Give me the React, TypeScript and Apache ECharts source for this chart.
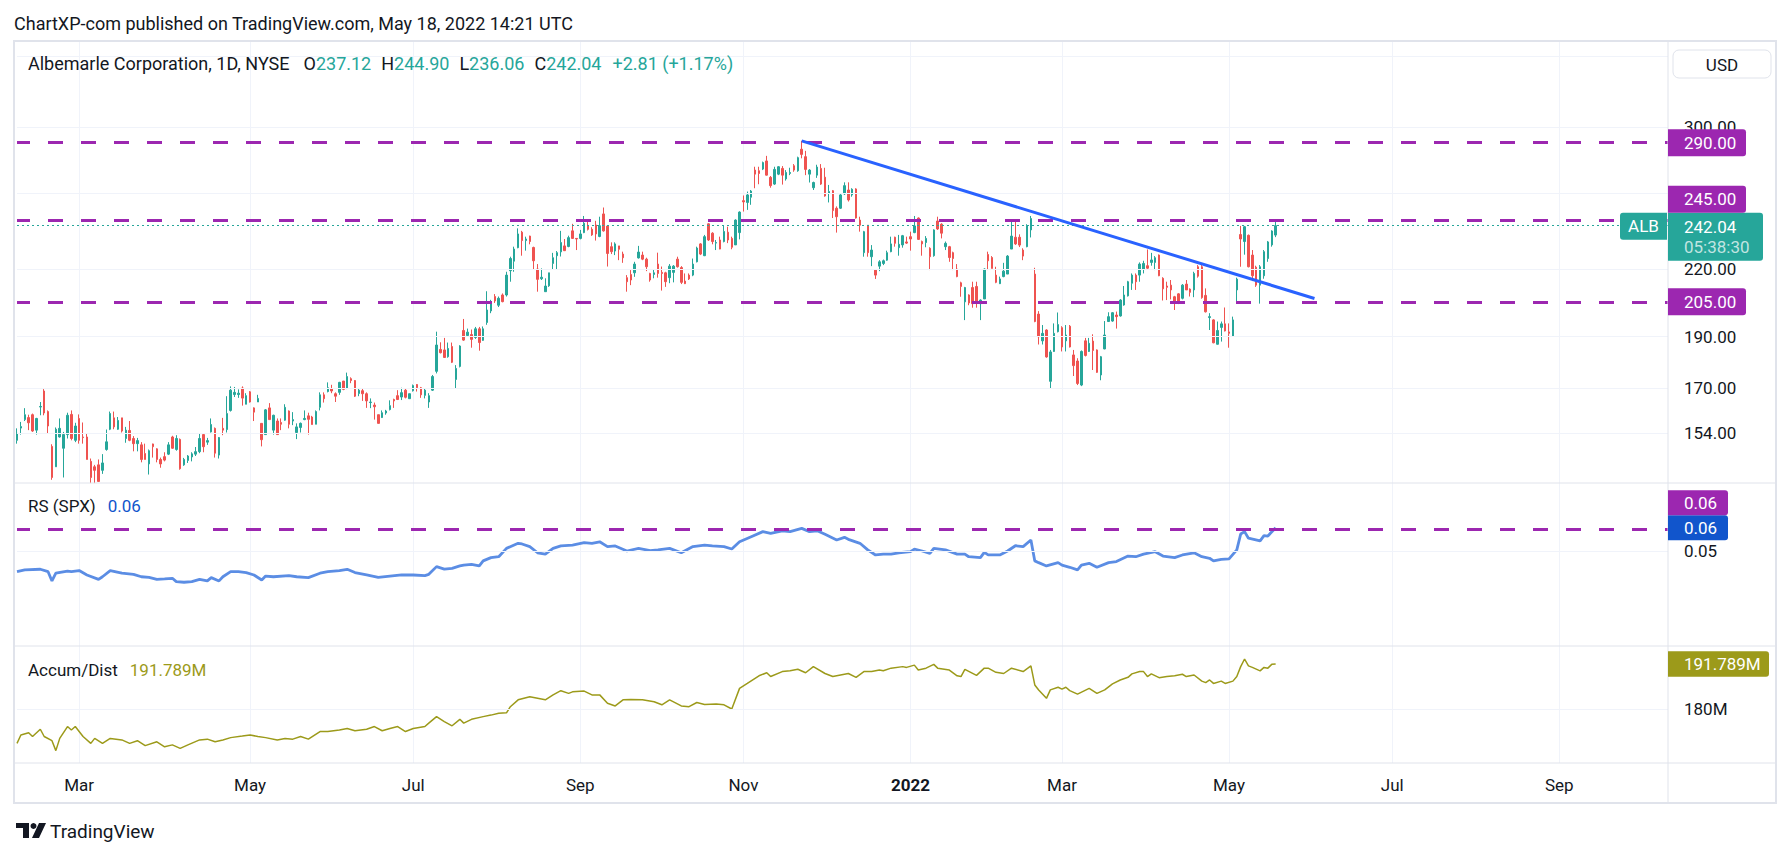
import React, { useEffect, useRef } from "react";
import * as echarts from "echarts";

// ---------------- data ----------------
const TITLE = "ChartXP-com published on TradingView.com, May 18, 2022 14:21 UTC";
const SYMBOL = "Albemarle Corporation, 1D, NYSE";
const TICKER = "ALB";
const COUNTDOWN = "05:38:30";
const CURRENCY = "USD";
const FIRST_DAY = "2021-02-04";
const TOTAL_SLOTS = 426; // trading-day slots on the time axis (data + future space)
const HOLIDAYS = [
  "2021-02-15", "2021-04-02", "2021-05-31", "2021-07-05", "2021-09-06", "2021-11-25",
  "2021-12-24", "2022-01-17", "2022-02-21", "2022-04-15", "2022-05-30", "2022-06-20",
  "2022-07-04", "2022-09-05", "2022-11-24",
];
const MONTHS = ["Jan", "Feb", "Mar", "Apr", "May", "Jun", "Jul", "Aug", "Sep", "Oct", "Nov", "Dec"];

// daily candles: [open, high, low, close]
const candles: number[][] = [
  [151.6, 155.6, 150.5, 153.9], [155.7, 157.8, 153.5, 156.2], [158.6, 162.6, 158.1, 160.3], [159.3, 160.3, 155.0, 157.5], [160.3, 160.7, 154.4, 154.7],
  [155.0, 159.2, 153.5, 159.0], [163.0, 164.8, 160.1, 163.2], [168.8, 169.5, 160.1, 160.9], [161.4, 161.8, 153.9, 156.4], [149.6, 150.3, 139.1, 139.8],
  [143.1, 155.9, 143.1, 155.3], [152.7, 159.0, 152.5, 155.6], [149.0, 154.4, 139.8, 153.5], [153.5, 161.0, 152.2, 160.1], [160.4, 161.8, 151.6, 152.2],
  [151.6, 157.5, 151.0, 156.4], [159.0, 160.4, 150.5, 151.6], [152.7, 157.6, 150.5, 152.5], [152.7, 153.9, 145.4, 145.4], [144.8, 145.7, 138.1, 139.8],
  [143.1, 143.7, 138.1, 142.0], [143.7, 145.4, 138.6, 138.6], [142.0, 147.1, 140.9, 144.3], [148.6, 155.2, 148.2, 151.1], [155.3, 161.4, 155.0, 160.7],
  [159.2, 161.4, 155.3, 156.1], [155.3, 159.5, 155.1, 158.3], [159.2, 159.2, 154.2, 154.7], [152.2, 156.1, 150.8, 155.0], [154.9, 158.1, 151.3, 151.6],
  [152.2, 153.0, 148.0, 150.5], [150.5, 152.4, 148.0, 151.5], [150.1, 151.0, 144.5, 145.4], [147.3, 150.5, 145.4, 145.4], [144.0, 148.6, 140.7, 148.2],
  [150.4, 150.5, 146.0, 149.5], [148.8, 149.0, 144.5, 145.4], [145.4, 146.0, 142.8, 144.0], [146.3, 147.7, 144.8, 145.2], [147.1, 151.0, 146.8, 150.1],
  [152.7, 153.1, 148.8, 149.0], [148.6, 153.3, 148.2, 152.2], [151.9, 152.2, 142.2, 142.5], [143.7, 145.9, 143.4, 145.4], [145.1, 146.8, 144.3, 146.5],
  [146.2, 147.7, 144.8, 147.2], [147.1, 149.4, 146.5, 147.9], [147.9, 153.9, 147.4, 152.2], [153.5, 153.9, 147.7, 149.5], [151.0, 152.4, 150.1, 151.5],
  [154.4, 159.0, 154.2, 156.9], [155.6, 155.9, 146.0, 147.4], [146.8, 152.7, 145.7, 152.5], [155.6, 159.2, 153.3, 155.0], [155.2, 166.9, 154.2, 160.7],
  [161.8, 170.5, 161.4, 169.1], [167.5, 170.3, 166.6, 168.3], [167.5, 169.4, 166.3, 168.0], [169.9, 170.5, 163.5, 166.2], [164.0, 168.0, 164.0, 167.1],
  [168.5, 168.8, 164.6, 164.8], [162.7, 162.9, 158.1, 161.2], [164.8, 167.4, 164.8, 166.1], [157.3, 157.3, 149.6, 151.8], [153.5, 162.3, 153.5, 162.0],
  [162.7, 164.4, 158.6, 158.6], [155.0, 160.3, 153.5, 160.1], [158.1, 159.0, 153.5, 153.5], [157.6, 159.0, 155.0, 157.0], [158.4, 164.0, 158.2, 162.9],
  [161.6, 161.8, 155.6, 157.0], [158.1, 161.2, 156.7, 158.6], [154.2, 157.3, 152.0, 156.1], [155.9, 157.6, 154.2, 157.3], [158.6, 161.8, 158.4, 159.0],
  [159.9, 161.0, 153.5, 158.7], [159.5, 159.9, 156.9, 156.9], [157.0, 161.8, 157.0, 161.4], [162.9, 168.3, 161.8, 167.4], [167.4, 168.3, 164.6, 166.0],
  [168.6, 172.0, 168.3, 170.0], [169.7, 171.1, 168.0, 168.8], [167.8, 168.3, 164.8, 166.9], [168.3, 172.2, 167.4, 172.0], [172.5, 172.5, 169.1, 169.4],
  [169.7, 175.7, 169.5, 174.2], [173.4, 173.9, 171.7, 172.7], [172.7, 172.9, 166.6, 166.9], [167.9, 169.7, 166.9, 169.1], [168.9, 169.6, 165.2, 167.8],
  [167.8, 168.3, 162.7, 165.2], [164.6, 166.1, 162.6, 164.8], [163.7, 164.6, 158.6, 163.1], [160.3, 160.3, 157.3, 157.3], [159.3, 161.8, 159.2, 161.0],
  [160.9, 162.0, 160.3, 161.6], [162.1, 165.4, 161.8, 163.5], [165.7, 166.0, 162.7, 165.2], [167.1, 169.1, 165.5, 165.7], [166.6, 170.0, 165.5, 168.2],
  [169.1, 169.6, 166.1, 166.5], [166.0, 167.8, 166.0, 167.8], [168.9, 171.2, 168.6, 170.8], [171.2, 171.4, 168.6, 170.0], [170.0, 170.3, 166.3, 167.4],
  [167.2, 169.7, 166.1, 169.1], [164.8, 168.0, 162.7, 167.1], [169.1, 174.8, 168.8, 174.2], [176.2, 192.1, 175.4, 186.6], [184.8, 187.7, 183.2, 183.5],
  [184.6, 189.5, 181.5, 181.6], [181.9, 187.6, 181.5, 185.2], [186.0, 187.6, 179.4, 179.7], [173.1, 178.6, 169.8, 177.3], [178.1, 186.5, 177.7, 186.2],
  [192.6, 197.5, 188.3, 188.6], [190.5, 193.4, 190.1, 191.9], [190.9, 193.0, 185.5, 188.9], [189.7, 194.1, 189.1, 193.3], [193.3, 194.1, 184.3, 187.6],
  [188.5, 194.3, 188.3, 193.3], [196.0, 209.8, 195.0, 201.4], [201.0, 205.9, 200.0, 204.8], [207.4, 208.5, 204.5, 205.4], [203.5, 207.4, 202.7, 206.6],
  [208.1, 208.8, 204.8, 205.1], [208.1, 218.9, 207.4, 217.3], [219.4, 226.2, 214.2, 225.3], [224.0, 231.2, 218.9, 230.0], [230.7, 240.6, 230.4, 237.7],
  [238.6, 239.3, 226.7, 234.3], [234.3, 236.3, 229.2, 235.1], [236.6, 236.8, 232.4, 233.8], [230.8, 231.2, 220.2, 224.2], [220.2, 222.6, 209.6, 215.3],
  [215.6, 220.5, 215.0, 216.3], [209.6, 215.8, 209.6, 212.2], [212.3, 218.4, 211.8, 218.4], [222.9, 228.1, 220.0, 225.7], [226.7, 229.0, 219.8, 228.2],
  [228.6, 239.3, 226.3, 233.3], [231.6, 235.1, 229.0, 229.2], [231.3, 236.8, 230.9, 235.8], [239.3, 243.0, 235.1, 235.4], [235.4, 235.4, 229.5, 235.1],
  [235.4, 239.8, 234.9, 237.7], [238.4, 247.2, 238.1, 243.3], [242.2, 244.1, 239.5, 240.1], [240.1, 241.2, 236.7, 237.2], [242.4, 244.6, 234.3, 237.7],
  [236.4, 246.8, 236.0, 242.0], [248.3, 251.8, 238.9, 239.3], [241.8, 242.4, 221.4, 227.8], [231.2, 233.4, 227.5, 228.7], [229.0, 233.4, 227.0, 232.6],
  [231.6, 231.6, 224.5, 229.9], [227.5, 228.7, 223.2, 225.7], [216.1, 217.3, 209.6, 214.2], [217.6, 219.7, 212.6, 215.0], [218.4, 223.7, 216.5, 222.6],
  [225.6, 231.6, 225.3, 228.5], [227.0, 228.7, 224.5, 225.0], [225.0, 225.7, 219.2, 221.3], [218.1, 218.4, 214.2, 215.0], [217.6, 220.0, 215.8, 218.4],
  [222.6, 228.2, 216.1, 218.1], [218.6, 221.4, 210.1, 218.1], [218.4, 218.9, 211.8, 214.2], [216.1, 222.6, 213.5, 221.6], [218.6, 222.1, 213.9, 221.6],
  [225.0, 226.2, 220.9, 221.3], [220.9, 221.6, 213.1, 213.9], [214.5, 218.1, 213.1, 213.3], [217.3, 218.1, 215.0, 215.5], [217.3, 225.3, 216.8, 222.6],
  [223.7, 231.2, 223.4, 230.5], [232.6, 233.0, 227.0, 227.5], [226.7, 237.2, 226.5, 236.3], [243.0, 243.3, 234.1, 234.6], [238.1, 238.6, 232.4, 233.8],
  [233.0, 234.6, 229.5, 233.3], [234.6, 236.3, 229.9, 230.0], [233.8, 241.9, 233.4, 239.0], [238.6, 241.5, 233.0, 234.6], [235.4, 236.3, 229.9, 230.9],
  [232.1, 245.4, 232.1, 245.0], [238.4, 249.7, 234.9, 249.3], [255.6, 258.5, 249.6, 254.9], [254.6, 260.7, 250.5, 258.8], [257.5, 261.6, 253.3, 261.0],
  [273.2, 275.2, 262.6, 270.8], [272.8, 275.2, 264.9, 271.2], [273.8, 278.3, 273.2, 277.7], [278.7, 281.8, 270.0, 270.2], [268.9, 269.7, 262.9, 264.1],
  [265.0, 275.2, 264.5, 273.6], [270.8, 275.6, 270.2, 275.2], [274.2, 275.6, 264.7, 270.2], [268.0, 273.2, 267.0, 271.8], [271.2, 274.6, 270.2, 271.8],
  [275.8, 276.8, 272.2, 273.2], [272.8, 281.3, 272.2, 280.7], [285.9, 291.2, 280.3, 282.7], [281.3, 284.9, 270.2, 273.6], [270.8, 273.8, 265.9, 273.2],
  [262.9, 266.4, 261.6, 265.9], [270.2, 276.4, 268.6, 275.0], [274.2, 276.8, 264.5, 265.0], [269.0, 274.6, 257.8, 258.2], [259.9, 264.5, 254.6, 260.7],
  [261.2, 261.6, 246.1, 250.1], [251.4, 252.4, 238.4, 246.8], [251.4, 259.4, 251.0, 258.8], [259.4, 266.0, 258.8, 264.1], [261.6, 266.0, 255.1, 256.0],
  [258.8, 262.6, 257.8, 262.0], [262.2, 262.6, 245.8, 246.1], [245.0, 246.8, 238.9, 242.3], [228.2, 239.3, 226.2, 238.9], [242.3, 242.3, 226.2, 228.2],
  [226.2, 232.0, 221.6, 229.5], [219.7, 220.0, 215.5, 217.3], [221.6, 224.5, 219.2, 223.7], [222.9, 224.8, 222.1, 224.2], [224.5, 229.2, 224.2, 228.2],
  [228.7, 236.3, 228.4, 232.6], [236.0, 236.3, 231.2, 232.9], [230.7, 237.2, 226.7, 232.4], [232.1, 237.2, 230.7, 236.8], [233.6, 236.3, 232.6, 233.0],
  [236.3, 238.9, 229.2, 235.1], [238.4, 247.2, 238.1, 241.9], [246.1, 246.4, 234.6, 234.9], [233.8, 234.3, 226.7, 232.6], [233.3, 236.6, 230.9, 235.4],
  [230.4, 230.9, 219.7, 226.2], [226.7, 240.1, 226.2, 239.8], [244.5, 246.8, 239.8, 240.3], [242.8, 243.3, 235.4, 238.1], [231.2, 233.8, 229.5, 232.9],
  [231.2, 231.6, 223.7, 225.8], [228.2, 228.7, 219.7, 225.3], [220.2, 222.6, 216.3, 216.6], [213.7, 214.2, 207.3, 212.0], [205.0, 211.8, 197.0, 211.5],
  [208.1, 208.4, 203.5, 204.5], [211.5, 214.2, 202.4, 204.2], [212.0, 214.2, 202.4, 204.5], [204.2, 206.1, 197.0, 205.8], [206.3, 220.5, 206.3, 220.2],
  [227.3, 228.7, 219.7, 224.2], [225.8, 226.5, 220.5, 220.5], [217.3, 221.3, 213.5, 213.9], [213.3, 216.6, 213.1, 215.5], [216.6, 223.2, 216.3, 219.2],
  [217.8, 227.0, 217.8, 226.5], [230.0, 244.5, 230.0, 236.6], [236.0, 245.0, 232.1, 232.6], [236.0, 237.5, 231.0, 232.0], [229.5, 230.4, 224.5, 226.5],
  [231.2, 242.8, 230.9, 242.0], [239.8, 247.2, 235.9, 245.8], [217.8, 220.8, 196.1, 196.4], [199.6, 200.9, 186.8, 190.0], [188.3, 194.9, 186.8, 191.4],
  [192.8, 193.1, 181.5, 181.8], [172.4, 184.6, 169.6, 183.8], [184.0, 195.6, 183.8, 191.4], [192.1, 200.3, 191.8, 195.1], [193.8, 194.4, 184.0, 185.8],
  [188.3, 194.9, 184.0, 190.7], [194.4, 194.9, 185.6, 185.8], [182.6, 184.6, 174.4, 178.4], [180.2, 181.3, 171.0, 171.6], [171.0, 184.4, 170.6, 184.0],
  [188.3, 189.5, 182.0, 182.4], [184.0, 189.5, 183.8, 187.3], [188.2, 191.0, 176.7, 184.4], [184.6, 184.8, 175.6, 175.8], [174.8, 182.2, 172.8, 181.9],
  [185.0, 196.6, 184.9, 190.7], [196.4, 200.4, 196.2, 198.5], [196.6, 200.5, 196.3, 200.2], [199.2, 200.7, 193.4, 198.5], [198.8, 206.2, 198.5, 205.8],
  [203.6, 212.2, 203.3, 208.1], [207.7, 214.6, 207.4, 214.2], [213.5, 218.1, 210.4, 217.3], [217.3, 218.1, 210.4, 214.2], [217.3, 223.4, 214.2, 222.6],
  [220.0, 224.2, 218.1, 222.9], [221.8, 229.8, 220.2, 220.6], [223.4, 228.1, 221.8, 224.6], [223.4, 226.5, 219.7, 225.7], [227.0, 227.3, 216.8, 217.0],
  [215.8, 216.3, 205.6, 210.9], [212.2, 214.2, 205.8, 211.6], [212.6, 215.0, 206.1, 210.4], [207.3, 207.7, 201.4, 205.1], [208.6, 208.9, 204.0, 204.3],
  [206.6, 213.1, 206.1, 212.6], [213.1, 215.0, 210.4, 210.4], [210.8, 211.1, 207.4, 209.3], [210.4, 218.9, 207.1, 218.1], [221.3, 222.1, 216.1, 216.8],
  [221.3, 222.1, 206.4, 206.9], [207.9, 211.1, 200.3, 200.6], [198.1, 200.0, 192.8, 198.5], [197.1, 197.4, 187.3, 187.5], [186.9, 196.4, 186.8, 192.6],
  [193.9, 196.4, 188.0, 195.4], [195.4, 202.5, 192.2, 192.4], [192.0, 195.6, 185.5, 191.4], [190.3, 198.5, 190.3, 197.1], [210.4, 216.1, 205.0, 215.4],
  [237.4, 241.9, 221.3, 235.1], [233.8, 241.9, 227.2, 241.5], [237.0, 237.4, 221.0, 221.3], [227.0, 229.5, 214.5, 217.0], [221.1, 221.8, 211.8, 212.6],
  [212.6, 222.1, 204.2, 221.3], [217.0, 229.5, 215.6, 228.7], [225.3, 234.1, 223.7, 233.6], [232.1, 239.6, 231.2, 239.23], [237.12, 244.9, 236.06, 242.04],
];

// horizontal levels drawn on the price pane
const priceLevels = [290, 245, 205];
const priceGrid = [154, 170, 190, 220, 260, 300, 350];
const priceLabels = [154, 170, 190, 220, 300];
// trend line: [bar index, price]
const trendStart = [202, 291.2];
const trendEnd = [334, 206.5];

// RS (SPX) indicator: bar index + value
const rsIdx = [0, 2, 6, 8, 9, 10, 13, 14, 16, 18, 21, 22, 24, 27, 30, 32, 34, 36, 38, 40, 41, 43, 45, 47, 49, 50, 52, 53, 55, 57,
  59, 61, 63, 64, 66, 70, 72, 75, 78, 80, 83, 85, 87, 90, 93, 96, 99, 102, 105, 106, 108, 110, 112, 114, 115, 117, 119, 120, 122, 124,
  126, 129, 130, 132, 134, 136, 138, 140, 143, 146, 148, 150, 152, 154, 157, 160, 163, 165, 168, 171, 174, 177, 179, 182, 184, 186, 189, 192, 194, 197,
  199, 202, 204, 206, 208, 211, 213, 214, 217, 219, 221, 223, 225, 227, 230, 231, 233, 235, 236, 239, 242, 244, 245, 248, 249, 250, 253, 255, 257, 259,
  261, 262, 263, 265, 268, 269, 271, 273, 274, 276, 278, 281, 283, 286, 288, 290, 293, 295, 298, 300, 303, 305, 307, 308, 310, 312, 314, 315, 316, 317,
  320, 321, 322, 324];
const rsVal = [0.0406, 0.0414, 0.0417, 0.0406, 0.0364, 0.0399, 0.0409, 0.0406, 0.0411, 0.0391, 0.0371, 0.0383, 0.0411, 0.0399, 0.0394, 0.0383, 0.038, 0.0371, 0.0373, 0.0376,
  0.0361, 0.0358, 0.0361, 0.0371, 0.0364, 0.0379, 0.0364, 0.0383, 0.0406, 0.0406, 0.0402, 0.0391, 0.0368, 0.0386, 0.0383, 0.0388, 0.0383, 0.0379, 0.0399, 0.0406,
  0.0411, 0.0417, 0.0402, 0.0391, 0.038, 0.0386, 0.0391, 0.0391, 0.0388, 0.0394, 0.0429, 0.0418, 0.0421, 0.0432, 0.0436, 0.0439, 0.0432, 0.0455, 0.047, 0.0474,
  0.0512, 0.0535, 0.0532, 0.052, 0.0492, 0.0486, 0.0512, 0.0523, 0.0527, 0.0538, 0.0535, 0.0542, 0.052, 0.0523, 0.05, 0.0512, 0.0502, 0.0505, 0.0512, 0.0492,
  0.052, 0.0527, 0.0523, 0.052, 0.0509, 0.0542, 0.0565, 0.0588, 0.058, 0.0592, 0.0588, 0.0603, 0.0588, 0.0592, 0.0576, 0.055, 0.0562, 0.0553, 0.0535, 0.0505,
  0.0482, 0.0486, 0.0486, 0.0492, 0.0497, 0.0508, 0.05, 0.0489, 0.0512, 0.0505, 0.0486, 0.0486, 0.0474, 0.047, 0.0494, 0.0482, 0.0482, 0.05, 0.0524, 0.052,
  0.055, 0.0455, 0.0447, 0.0432, 0.0447, 0.0436, 0.0426, 0.0414, 0.0436, 0.0444, 0.0426, 0.0447, 0.0452, 0.0477, 0.0474, 0.0486, 0.0497, 0.0477, 0.047, 0.0482,
  0.0492, 0.0474, 0.0467, 0.0455, 0.0462, 0.0464, 0.0505, 0.0577, 0.0588, 0.0558, 0.0546, 0.057, 0.0568, 0.0606];
const rsLevel = 0.0603;
const rsTicks = [0.05];

// Accumulation / Distribution (millions): bar index + value
const adIdx = [0, 1, 3, 4, 6, 7, 9, 10, 11, 13, 14, 15, 17, 19, 20, 22, 24, 27, 29, 31, 33, 36, 38, 40, 42, 44, 47, 49, 51, 53,
  55, 58, 60, 62, 64, 67, 69, 71, 73, 75, 78, 80, 83, 85, 87, 90, 92, 94, 96, 98, 100, 102, 105, 106, 108, 110, 112, 114, 115, 117,
  120, 122, 124, 126, 127, 129, 132, 134, 136, 138, 140, 142, 143, 146, 148, 150, 152, 154, 156, 158, 161, 164, 166, 168, 171, 173, 175, 177, 180, 182,
  184, 186, 188, 191, 193, 194, 197, 199, 201, 203, 205, 208, 210, 212, 214, 216, 218, 220, 222, 223, 225, 228, 229, 231, 232, 234, 236, 237, 240, 242,
  243, 244, 247, 249, 250, 252, 254, 256, 259, 261, 262, 263, 265, 266, 268, 269, 270, 271, 273, 276, 278, 280, 282, 284, 286, 287, 289, 290, 291, 292,
  294, 296, 298, 300, 301, 303, 305, 306, 307, 308, 310, 311, 313, 314, 315, 316, 317, 318, 320, 321, 322, 323, 324];
const adVal = [171.0, 173.2, 173.8, 172.8, 174.7, 172.8, 171.7, 169.1, 172.3, 175.4, 174.5, 175.4, 172.8, 171.0, 172.3, 171.0, 172.3, 171.9, 171.0, 171.7,
  170.4, 171.4, 170.1, 170.6, 169.7, 170.6, 171.9, 172.1, 171.4, 171.9, 172.5, 172.9, 173.2, 172.8, 172.5, 171.9, 172.3, 172.1, 172.8, 172.1,
  174.1, 174.1, 174.5, 174.9, 174.3, 174.7, 175.4, 174.3, 174.9, 175.4, 174.1, 174.9, 175.4, 176.3, 178.0, 176.7, 175.6, 177.3, 176.3, 177.3,
  178.0, 178.4, 178.9, 179.0, 180.6, 182.4, 183.2, 182.8, 182.4, 183.7, 184.8, 184.1, 184.5, 184.7, 183.7, 183.7, 181.5, 180.8, 182.4, 182.5,
  182.4, 181.9, 181.1, 182.4, 180.8, 180.6, 181.7, 181.2, 181.3, 181.1, 180.0, 185.4, 186.7, 188.7, 189.5, 188.5, 189.8, 190.0, 190.4, 189.5,
  191.1, 189.3, 188.5, 188.9, 189.3, 188.3, 189.8, 189.8, 190.2, 190.0, 190.7, 191.1, 190.9, 191.5, 190.2, 190.7, 191.7, 190.7, 190.2, 188.7,
  188.5, 190.4, 188.8, 190.7, 190.7, 189.6, 189.3, 190.7, 189.8, 191.3, 186.3, 185.0, 182.8, 185.0, 185.7, 185.2, 185.7, 184.8, 183.9, 185.4,
  184.1, 185.0, 186.6, 187.6, 188.3, 189.2, 189.8, 189.8, 188.5, 189.2, 188.2, 188.5, 188.7, 189.1, 188.5, 188.9, 187.3, 186.9, 187.6, 186.7,
  187.3, 186.7, 187.3, 188.5, 191.1, 193.1, 191.3, 190.9, 190.0, 190.9, 190.7, 191.7, 191.789];
const adTicks = [180];

// ---------------- style / layout ----------------
const FONT = "Roboto, 'Noto Sans', sans-serif";
const TEXT = "#131722";
const GRID_C = "#f0f3fa";
const BORDER = "#e0e3eb";
const UP = "#26a69a";
const DOWN = "#ef5350";
const PURPLE = "#9c27b0";
const TREND = "#2962ff";
const RS_C = "#5b8de4";
const RS_LABEL = "#1155cc";
const AD_C = "#9c9a1a";

const W = 1791;
const H = 857;
const FRAME_L = 14;
const FRAME_R = 1776;
const PLOT_L = 17;
const AXIS_X = 1668;
const TOP = 41;
const P1 = 483;
const P2 = 646;
const P3 = 763;
const BOTTOM = 803;
const PRICE_MIN = 138.13;
const PRICE_MAX = 361.97;
const RS_MIN = 0.006818;
const RS_MAX = 0.080909;
const AD_MIN = 165.853;
const AD_MAX = 196.505;

function tradingDays(start: string, n: number, holidays: string[]) {
  const out: string[] = [];
  const d = new Date(start + "T00:00:00Z");
  while (out.length < n) {
    const dow = d.getUTCDay();
    const s = d.toISOString().slice(0, 10);
    if (dow !== 0 && dow !== 6 && !holidays.includes(s)) out.push(s);
    d.setUTCDate(d.getUTCDate() + 1);
  }
  return out;
}

const dates = tradingDays(FIRST_DAY, TOTAL_SLOTS, HOLIDAYS);
const monthOf = (s: string) => Number(s.slice(5, 7)) - 1;
const isTick = dates.map((s, i) => i > 0 && monthOf(s) !== monthOf(dates[i - 1]) && monthOf(s) % 2 === 0);

function xAxis(gridIndex: number, showLabels: boolean) {
  return {
    type: "category",
    gridIndex,
    data: dates,
    boundaryGap: false,
    axisLine: { show: false },
    axisTick: { show: false },
    axisLabel: showLabels
      ? {
          interval: (i: number) => isTick[i],
          margin: 13,
          fontFamily: FONT,
          fontSize: 17,
          color: TEXT,
          formatter: (v: string) => (monthOf(v) === 0 ? `{y|${v.slice(0, 4)}}` : MONTHS[monthOf(v)]),
          rich: { y: { fontFamily: FONT, fontSize: 17, fontWeight: "bold", color: TEXT } },
        }
      : { show: false },
    splitLine: { show: true, interval: (i: number) => isTick[i], lineStyle: { color: GRID_C, width: 1 } },
  };
}

function yLabel(values: number[], fmt: (v: number) => string) {
  return { customValues: values, formatter: fmt, margin: 16, fontFamily: FONT, fontSize: 17, color: TEXT };
}

function gridSeries(xi: number, values: number[]) {
  return {
    type: "line",
    xAxisIndex: xi,
    yAxisIndex: xi,
    data: [],
    silent: true,
    z: 1,
    markLine: {
      silent: true,
      symbol: ["none", "none"],
      label: { show: false },
      emphasis: { disabled: true },
      lineStyle: { color: GRID_C, width: 1, type: "solid" },
      data: values.map((v) => ({ yAxis: v })),
    },
  };
}

const dashed = { color: PURPLE, width: 3, type: [15, 18] as any, dashOffset: 2 };

function buildOption() {
  const last = candles[candles.length - 1];
  return {
    animation: false,
    backgroundColor: "#ffffff",
    grid: [
      { left: PLOT_L, right: W - AXIS_X, top: TOP, height: P1 - TOP },
      { left: PLOT_L, right: W - AXIS_X, top: P1, height: P2 - P1 },
      { left: PLOT_L, right: W - AXIS_X, top: P2, height: P3 - P2 },
    ],
    xAxis: [xAxis(0, false), xAxis(1, false), xAxis(2, true)],
    yAxis: [
      {
        type: "log", gridIndex: 0, position: "right", min: PRICE_MIN, max: PRICE_MAX, logBase: 10,
        axisLine: { show: false }, axisTick: { show: false }, splitLine: { show: false },
        axisLabel: yLabel(priceLabels, (v) => Number(v).toFixed(2)),
      },
      {
        type: "value", gridIndex: 1, position: "right", min: RS_MIN, max: RS_MAX,
        axisLine: { show: false }, axisTick: { show: false }, splitLine: { show: false },
        axisLabel: yLabel(rsTicks, (v) => Number(v).toFixed(2)),
      },
      {
        type: "value", gridIndex: 2, position: "right", min: AD_MIN, max: AD_MAX,
        axisLine: { show: false }, axisTick: { show: false }, splitLine: { show: false },
        axisLabel: yLabel(adTicks, (v) => `${Math.round(Number(v))}M`),
      },
    ],
    series: [
      gridSeries(0, priceGrid),
      {
        type: "candlestick",
        xAxisIndex: 0,
        yAxisIndex: 0,
        barWidth: 2,
        clip: false,
        z: 2,
        data: candles.map(([o, h, l, c]) => [o, c, l, h]),
        itemStyle: { color: UP, color0: DOWN, borderColor: UP, borderColor0: DOWN, borderWidth: 1 },
      },
      {
        type: "line",
        xAxisIndex: 0,
        yAxisIndex: 0,
        data: [],
        silent: true,
        z: 3,
        markLine: {
          silent: true,
          symbol: ["none", "none"],
          label: { show: false },
          emphasis: { disabled: true },
          data: [
            { yAxis: last[3], lineStyle: { color: UP, width: 1.2, type: [2, 3] as any } },
            ...priceLevels.map((v) => ({ yAxis: v, lineStyle: dashed })),
            [
              { coord: [dates[trendStart[0]], trendStart[1]], lineStyle: { color: TREND, width: 3, type: "solid" } },
              { coord: [dates[trendEnd[0]], trendEnd[1]] },
            ],
          ],
        },
      },
      gridSeries(1, rsTicks),
      {
        type: "line",
        xAxisIndex: 1,
        yAxisIndex: 1,
        z: 3,
        showSymbol: false,
        silent: true,
        data: rsIdx.map((i, k) => [dates[i], rsVal[k]]),
        lineStyle: { color: RS_C, width: 2.8 },
        markLine: {
          silent: true,
          symbol: ["none", "none"],
          label: { show: false },
          emphasis: { disabled: true },
          data: [{ yAxis: rsLevel, lineStyle: dashed }],
        },
      },
      gridSeries(2, adTicks),
      {
        type: "line",
        xAxisIndex: 2,
        yAxisIndex: 2,
        z: 3,
        showSymbol: false,
        silent: true,
        data: adIdx.map((i, k) => [dates[i], adVal[k]]),
        lineStyle: { color: AD_C, width: 1.5 },
      },
    ],
  };
}

const ctx = typeof document !== "undefined" ? document.createElement("canvas").getContext("2d") : null;
function textWidth(t: string, size: number) {
  if (!ctx) return t.length * size * 0.5;
  ctx.font = `${size}px Roboto`;
  return ctx.measureText(t).width;
}

function buildGraphics(chart: any) {
  const Z = 100;
  const els: any[] = [];
  const txt = (x: number, y: number, t: string, fill = TEXT, size = 17, align = "left", weight = "normal") =>
    els.push({
      type: "text", x, y, z: Z + 2, silent: true,
      style: { text: t, fill, fontFamily: FONT, fontSize: size, fontWeight: weight, align, verticalAlign: "middle" },
    });
  const box = (x: number, y: number, w: number, h: number, fill: string, r: any = [0, 3, 3, 0]) =>
    els.push({ type: "rect", z: Z + 1, silent: true, shape: { x, y, width: w, height: h, r }, style: { fill } });
  const line = (x1: number, y1: number, x2: number, y2: number) =>
    els.push({ type: "line", z: Z, silent: true, shape: { x1, y1, x2, y2 }, style: { stroke: BORDER, lineWidth: 1 } });

  const yMain = (v: number) => chart.convertToPixel({ yAxisIndex: 0 }, v) as number;
  const yRS = (v: number) => chart.convertToPixel({ yAxisIndex: 1 }, v) as number;
  const yAD = (v: number) => chart.convertToPixel({ yAxisIndex: 2 }, v) as number;

  // frame and pane separators
  els.push({
    type: "rect", z: Z, silent: true,
    shape: { x: FRAME_L, y: TOP, width: FRAME_R - FRAME_L, height: BOTTOM - TOP },
    style: { fill: "none", stroke: BORDER, lineWidth: 2 },
  });
  line(FRAME_L, P1, FRAME_R, P1);
  line(FRAME_L, P2, FRAME_R, P2);
  line(FRAME_L, P3, FRAME_R, P3);
  line(AXIS_X, TOP, AXIS_X, BOTTOM);

  // title
  txt(FRAME_L, 23, TITLE, TEXT, 18);

  // main legend
  const last = candles[candles.length - 1];
  const prev = candles[candles.length - 2][3];
  const chg = last[3] - prev;
  const pct = (chg / prev) * 100;
  const lc = chg >= 0 ? UP : DOWN;
  const sign = chg >= 0 ? "+" : "";
  const parts: [string, string, number][] = [
    [SYMBOL, TEXT, 14],
    ["O", TEXT, 0], [last[0].toFixed(2), lc, 10],
    ["H", TEXT, 0], [last[1].toFixed(2), lc, 10],
    ["L", TEXT, 0], [last[2].toFixed(2), lc, 10],
    ["C", TEXT, 0], [last[3].toFixed(2), lc, 11],
    [`${sign}${chg.toFixed(2)} (${sign}${pct.toFixed(2)}%)`, lc, 0],
  ];
  let cx = 28;
  for (const [t, c, gap] of parts) {
    txt(cx, 63, t, c, 18);
    cx += textWidth(t, 18) + gap;
  }

  // RS legend
  const rsLast = rsVal[rsVal.length - 1];
  txt(28, 506, "RS (SPX)", TEXT, 17);
  txt(28 + textWidth("RS (SPX)", 17) + 12, 506, rsLast.toFixed(2), RS_LABEL, 17);
  // A/D legend
  const adLast = adVal[adVal.length - 1];
  txt(28, 670, "Accum/Dist", TEXT, 17);
  txt(28 + textWidth("Accum/Dist", 17) + 12, 670, `${adLast.toFixed(3)}M`, AD_C, 17);

  // USD button
  els.push({
    type: "rect", z: Z + 1, silent: true,
    shape: { x: 1673, y: 50, width: 98, height: 28, r: 6 },
    style: { fill: "#ffffff", stroke: BORDER, lineWidth: 1 },
  });
  txt(1722, 64.5, CURRENCY, TEXT, 17, "center");

  // price-scale labels
  const LX = AXIS_X + 16;
  const yLast = yMain(last[3]);
  const lastTop = yLast - 13;
  box(AXIS_X, lastTop, 95, 48, UP);
  txt(LX, yLast + 1, last[3].toFixed(2), "#ffffff", 17);
  txt(LX, yLast + 21.5, COUNTDOWN, "rgba(255,255,255,0.72)", 17);
  box(1620, lastTop, 47, 27, UP, [3, 0, 0, 3]);
  txt(1643.5, lastTop + 13.5, TICKER, "#ffffff", 17, "center");
  for (const v of priceLevels) {
    let cy = yMain(v);
    if (cy > lastTop - 13.5 && cy < lastTop + 48 + 13.5) {
      cy = cy < yLast ? lastTop - 13.5 : lastTop + 48 + 13.5;
    }
    box(AXIS_X, cy - 13.5, 78, 27, PURPLE);
    txt(LX, cy, v.toFixed(2), "#ffffff", 17);
  }

  // RS labels
  const yr = yRS(rsLast);
  box(AXIS_X, yr - 12.5, 60, 25, RS_LABEL);
  txt(LX, yr, rsLast.toFixed(2), "#ffffff", 17);
  let yl = yRS(rsLevel);
  if (Math.abs(yl - yr) < 25) yl = yr - 25;
  box(AXIS_X, yl - 12.5, 60, 25, PURPLE);
  txt(LX, yl, rsLevel.toFixed(2), "#ffffff", 17);

  // A/D label
  const ya = yAD(adLast);
  box(AXIS_X, ya - 12.8, 101, 25.6, AD_C);
  txt(LX, ya, `${adLast.toFixed(3)}M`, "#ffffff", 17);

  // TradingView logo
  els.push({ type: "rect", z: Z, silent: true, shape: { x: 16, y: 823, width: 13, height: 5 }, style: { fill: TEXT } });
  els.push({ type: "rect", z: Z, silent: true, shape: { x: 23, y: 823, width: 6, height: 15 }, style: { fill: TEXT } });
  els.push({ type: "circle", z: Z, silent: true, shape: { cx: 33.5, cy: 826, r: 3 }, style: { fill: TEXT } });
  els.push({ type: "polygon", z: Z, silent: true, shape: { points: [[39, 823], [46, 823], [39, 838], [32, 838]] }, style: { fill: TEXT } });
  txt(50, 831, "TradingView", TEXT, 19);

  return els;
}

export default function App() {
  const ref = useRef<HTMLDivElement>(null);
  useEffect(() => {
    document.body.style.margin = "0";
    const chart = echarts.init(ref.current!, null, { renderer: "svg" });
    chart.setOption(buildOption() as any);
    chart.setOption({ graphic: { elements: buildGraphics(chart) } } as any);
    return () => chart.dispose();
  }, []);
  return <div ref={ref} style={{ width: W, height: H }} />;
}
